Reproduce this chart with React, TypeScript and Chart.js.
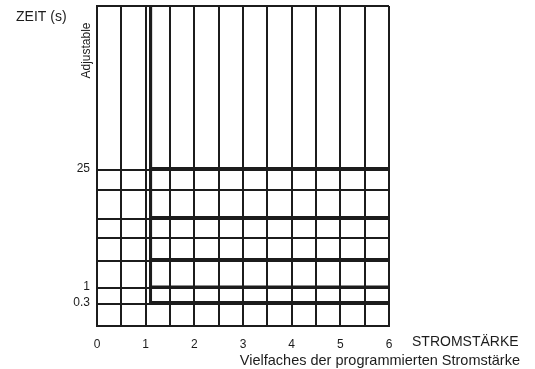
import React, { useEffect, useRef } from 'react';
import { Chart, registerables } from 'chart.js';

Chart.register(...registerables);

// X axis: multiples of the programmed current
const xMin = 0;
const xMax = 6;
const xGridStep = 0.5;
const xTickLabels = ['0', '1', '2', '3', '4', '5', '6'];

// Y axis: schematic (non-linear) time axis, in abstract units
const yMin = 0;
const yMax = 320;
const timeGridLevels = [0, 22, 38.3, 65, 87.7, 107.5, 136.5, 156, 320];
const timeLabels = ['25', '1', '0.3'];
const timeLabelLevels = [157.5, 39, 23.5];

// Trip curves: vertical at the pickup multiple, then flat at each time setting
const curveStartMultiple = 1.1;
const curveTopLevel = 320;
const curveLevels = [157.5, 108.5, 66.5, 39, 23.5];

const INK = '#1c1c1c';
const FONT = "'Liberation Sans', Arial, Helvetica, sans-serif";

const textPlugin = {
  id: 'annotTexts',
  afterDraw(chart: any) {
    const { ctx, chartArea } = chart;
    ctx.save();
    ctx.fillStyle = INK;
    ctx.font = `14px ${FONT}`;
    ctx.textBaseline = 'middle';
    ctx.textAlign = 'left';
    ctx.fillText('ZEIT (s)', 16, 17);
    ctx.fillText('STROMSTÄRKE', chartArea.right + 23, 342);
    ctx.textAlign = 'right';
    ctx.font = `14.5px ${FONT}`;
    ctx.fillText('Vielfaches der programmierten Stromstärke', 520, 361);
    ctx.translate(86.5, 50.5);
    ctx.rotate(-Math.PI / 2);
    ctx.textAlign = 'center';
    ctx.font = `12px ${FONT}`;
    ctx.fillText('Adjustable', 0, 0);
    ctx.restore();
  },
};

export default function App() {
  const ref = useRef<HTMLCanvasElement | null>(null);

  useEffect(() => {
    if (!ref.current) return;
    const datasets = curveLevels.map((lvl, i) => ({
      label: `curve ${i + 1}`,
      data: [
        { x: curveStartMultiple, y: curveTopLevel },
        { x: curveStartMultiple, y: lvl },
        { x: xMax, y: lvl },
      ],
      showLine: true,
      borderColor: INK,
      backgroundColor: INK,
      borderWidth: 3,
      borderCapStyle: 'butt',
      borderJoinStyle: 'miter',
      pointRadius: 0,
      fill: false,
      tension: 0,
    }));

    const yTicks = Array.from(new Set([...timeGridLevels, ...timeLabelLevels])).sort((a, b) => a - b);

    const zeroPad = (s: any) => {
      s.paddingTop = 0;
      s.paddingBottom = 0;
      s.paddingLeft = 0;
      s.paddingRight = 0;
    };

    const chart = new Chart(ref.current, {
      type: 'scatter',
      data: { datasets: datasets as any },
      options: {
        animation: false,
        responsive: false,
        layout: { padding: { top: 6, right: 146, left: 0, bottom: 0 } },
        plugins: { legend: { display: false }, tooltip: { enabled: false } },
        scales: {
          x: {
            type: 'linear',
            min: xMin,
            max: xMax,
            afterFit: (s: any) => { s.height = 43; zeroPad(s); },
            grid: { color: INK, lineWidth: 2, drawTicks: false },
            border: { display: true, color: INK, width: 2 },
            ticks: {
              stepSize: xGridStep,
              autoSkip: false,
              maxRotation: 0,
              padding: 11,
              color: INK,
              font: { family: FONT, size: 12 },
              callback: (v: any) => {
                const n = Number(v);
                return Number.isInteger(n) ? xTickLabels[n] ?? '' : '';
              },
            },
          },
          y: {
            type: 'linear',
            min: yMin,
            max: yMax,
            afterFit: (s: any) => { s.width = 97; zeroPad(s); },
            afterBuildTicks: (s: any) => { s.ticks = yTicks.map((v) => ({ value: v })); },
            grid: {
              drawTicks: false,
              lineWidth: 2,
              color: (c: any) => (timeGridLevels.includes(c.tick?.value) ? INK : 'rgba(0,0,0,0)'),
            },
            border: { display: true, color: INK, width: 2 },
            ticks: {
              autoSkip: false,
              padding: 7,
              color: INK,
              font: { family: FONT, size: 12 },
              callback: (v: any) => {
                const idx = timeLabelLevels.indexOf(Number(v));
                return idx >= 0 ? timeLabels[idx] : '';
              },
            },
          },
        },
      },
      plugins: [textPlugin],
    });
    return () => chart.destroy();
  }, []);

  return (
    <div style={{ position: 'fixed', left: 0, top: 0, width: 535, height: 369, background: '#fff' }}>
      <canvas ref={ref} width={535} height={369} style={{ display: 'block', width: 535, height: 369 }} />
    </div>
  );
}
